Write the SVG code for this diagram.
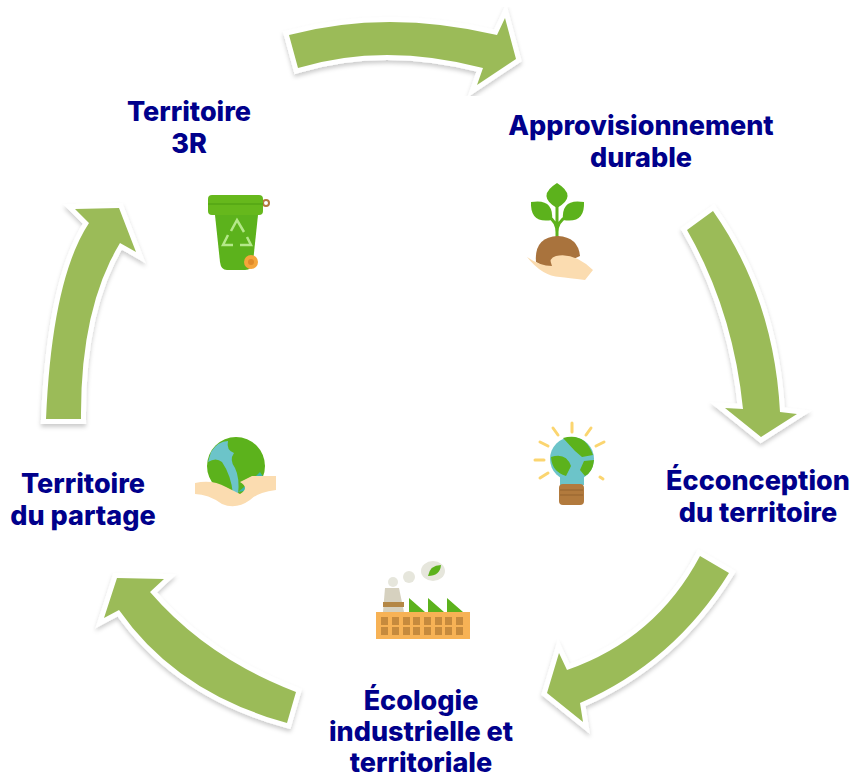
<svg xmlns="http://www.w3.org/2000/svg" width="851" height="779" viewBox="0 0 851 779">
<style>
.a{fill:#9bbb59;stroke:#fff;stroke-width:10;stroke-linejoin:miter;stroke-miterlimit:6;paint-order:stroke;filter:url(#s)}
.t{font-family:"Inter","Liberation Sans",sans-serif;font-weight:800;font-size:27px;fill:#00008b;text-anchor:middle}
.i{filter:url(#b)}
</style>
<defs><filter id="s" x="-15%" y="-15%" width="130%" height="130%"><feDropShadow dx="0" dy="3" stdDeviation="2" flood-color="#000" flood-opacity=".2"/></filter>
<filter id="b" x="-5%" y="-5%" width="110%" height="110%"><feGaussianBlur stdDeviation=".5"/></filter></defs>
<rect width="851" height="779" fill="#fff"/>
<g id="connectors">
<path class="a" d="M289 35Q387 9 497 35L505 18L516 59L477 85L483 68Q384 42 298 68Z"/>
<path class="a" d="M713 211Q774 298 780 412L797 414L761 437L725 408L743 409Q733 310 687 230Z"/>
<path class="a" d="M729 573Q674 662 580 703L583 722L547 693L559 653L567 670Q656 639 700 556Z"/>
<path class="a" d="M296 692Q207 658 150 592L164 579L117 578L104 618L119 610Q177 693 287 723Z"/>
<path class="a" d="M46 419Q52 279 89 223L75 209L119 208L136 252L120 243Q80 309 81 419Z"/>
</g>
<g id="n-approvisionnement">
<text class="t" x="641" y="135">Approvisionnement</text><text class="t" x="641" y="167">durable</text>
<g class="i">
<path d="M557 238V200M557 232Q557 222 548 216M557 232Q557 222 567 216" stroke="#5cb21a" stroke-width="3" fill="none"/>
<path d="M557 183Q578 196 557 208Q536 196 557 183Z" fill="#5cb21a"/>
<path d="M531 202Q554 198 552 220Q530 224 531 202Z" fill="#5cb21a"/>
<path d="M584 202Q561 198 563 220Q585 224 584 202Z" fill="#5cb21a"/>
<path d="M536 262Q534 237 558 236Q578 237 580 256L550 270Z" fill="#a9733d"/>
<path d="M527 257Q540 266 552 266Q548 258 556 256Q574 252 593 270L585 280Q568 278 560 277Q542 276 527 257Z" fill="#fbdcb0"/>
</g></g>
<g id="n-ecoconception">
<text class="t" x="758" y="490">Écconception</text><text class="t" x="758" y="522">du territoire</text>
<g class="i">
<path d="M572 423V432M553 428L558 435M591 428L586 435M540 442L548 446M604 442L596 446M535 460H544M540 478L548 473M600 477L603 479" stroke="#fbd56f" stroke-width="3" stroke-linecap="round" fill="none"/>
<path d="M560 476H584V485H560Z" fill="#6cc4c9"/>
<circle cx="572" cy="459" r="22" fill="#6cc4c9"/>
<path d="M563 438Q585 432 593 455L582 457L575 451ZM551 457Q566 452 571 466L566 476Q552 472 551 457ZM584 461L594 460Q593 472 585 476L580 470Z" fill="#5cb21a"/>
<rect x="559" y="484" width="25" height="21" rx="4" fill="#b27a3d"/>
<path d="M560 490H583M560 495H583" stroke="#94622d"/>
</g></g>
<g id="n-ecologie">
<text class="t" x="421" y="710">Écologie</text><text class="t" x="421" y="741">industrielle et</text><text class="t" x="421" y="772">territoriale</text>
<g class="i">
<circle cx="393" cy="582" r="5" fill="#e6e6dc"/><circle cx="409" cy="577" r="6" fill="#e6e6dc"/>
<ellipse cx="433" cy="571" rx="12" ry="10" fill="#e6e6dc"/>
<path d="M428 576Q430 565 441 565Q440 576 428 576Z" fill="#5cb21a"/>
<path d="M385 588H399L404 612H383Z" fill="#d6d1bf"/><rect x="383" y="602" width="21" height="5" fill="#b48744"/>
<path d="M409 598L425 612H409ZM428 598L444 612H428ZM447 598L463 612H447Z" fill="#5cb21a"/>
<rect x="376" y="612" width="94" height="27" fill="#f7b254"/>
<g fill="#c68a3c"><rect x="381" y="617" width="7" height="8"/><rect x="392" y="617" width="7" height="8"/><rect x="403" y="617" width="7" height="8"/><rect x="413" y="617" width="7" height="8"/><rect x="424" y="617" width="7" height="8"/><rect x="435" y="617" width="7" height="8"/><rect x="445" y="617" width="7" height="8"/><rect x="456" y="617" width="7" height="8"/><rect x="381" y="627" width="7" height="8"/><rect x="392" y="627" width="7" height="8"/><rect x="403" y="627" width="7" height="8"/><rect x="413" y="627" width="7" height="8"/><rect x="424" y="627" width="7" height="8"/><rect x="435" y="627" width="7" height="8"/><rect x="445" y="627" width="7" height="8"/><rect x="456" y="627" width="7" height="8"/></g>
</g></g>
<g id="n-partage">
<text class="t" x="83" y="493">Territoire</text><text class="t" x="83" y="525">du partage</text>
<g class="i">
<circle cx="236" cy="466" r="29" fill="#5cb21a"/>
<path d="M211 452Q218 441 228 441Q226 450 234 453Q229 460 235 468Q240 478 238 495L233 494Q231 475 222 462Q216 457 208 462Z" fill="#6cc4c9"/>
<path d="M260 472L264 478Q258 488 250 490L238 492L250 482Z" fill="#3ab5a8"/>
<path d="M195 483Q212 479 226 487L240 494Q250 488 240 482L252 476H276V490Q258 492 250 500Q236 510 222 504Q208 494 195 494Z" fill="#fbdcb0"/>
</g></g>
<g id="n-3r">
<text class="t" x="189" y="121">Territoire</text><text class="t" x="189" y="153">3R</text>
<g class="i">
<circle cx="266" cy="203" r="3" fill="none" stroke="#b27a3d" stroke-width="2"/>
<path d="M215 215H258L253 262Q252 270 245 270H227Q221 270 220 262Z" fill="#5cb21a"/>
<rect x="208" y="195" width="55" height="20" rx="4" fill="#66b81f"/>
<path d="M208 204H263" stroke="#4d9c14" stroke-width="1"/>
<path d="M231 231L237 220L244 232M247 237L251 245L240 245M233 245H223L228 235" fill="none" stroke="#b4e88a" stroke-width="2.500"/>
<circle cx="251" cy="262" r="7" fill="#f5a53a"/><circle cx="251" cy="262" r="3" fill="#e08a2a"/>
</g></g>
</svg>
